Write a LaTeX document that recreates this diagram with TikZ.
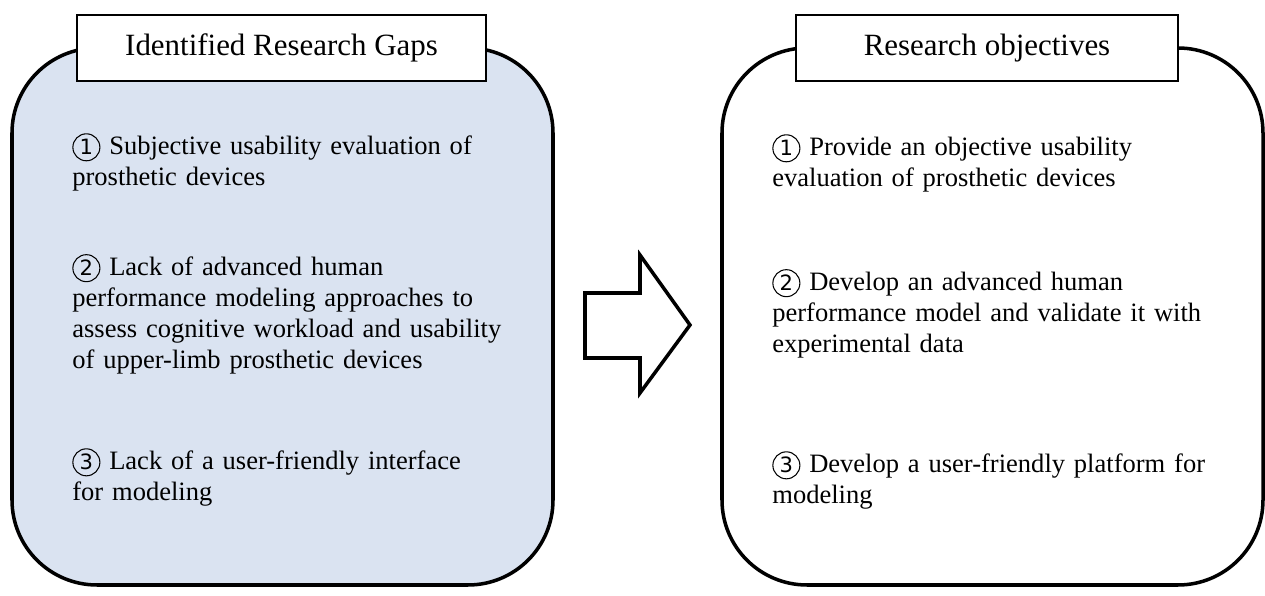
\documentclass[tikz,border=0pt]{standalone}
\usepackage{fontspec}
\setmainfont{Liberation Serif}
\newfontfamily\circfont{DejaVu Sans}
\usepackage{tikz}
\usetikzlibrary{positioning}
\usepackage{xcolor}
\definecolor{gapblue}{HTML}{DAE3F1}
\newcommand{\cnum}[1]{\tikz[baseline=(cn.base)]
  \node[circle, draw, line width=0.6pt, inner sep=0pt, minimum size=0.54cm,
        font=\circfont\fontsize{12pt}{12pt}\selectfont] (cn) {#1};}

\begin{document}
\begin{tikzpicture}[
    outerbox/.style={draw, line width=2pt, rounded corners=1.7cm,
                     minimum width=10.82cm, minimum height=10.74cm},
    titlebox/.style={draw, fill=white, line width=1pt, minimum height=1.32cm,
                     font=\fontsize{17.6pt}{20pt}\selectfont},
    itemtext/.style={anchor=base west, inner sep=0pt, text width=9.6cm, align=left,
                     font=\fontsize{15.1pt}{17.64pt}\selectfont}
  ]
  \useasboundingbox (0,0) rectangle (25.3,11.92);

  % left: gaps
  \node[outerbox, fill=gapblue] (gapbox) at (5.65, 5.59) {};
  \node[titlebox, minimum width=8.18cm] (gaptitle) at (5.63, 10.96) {Identified Research Gaps};
  \node[itemtext] (gapone) at (1.44, 8.82)
    {\cnum{1} Subjective usability evaluation of\\prosthetic devices};
  \node[itemtext] (gaptwo) at (1.44, 6.40)
    {\cnum{2} Lack of advanced human\\performance modeling approaches to\\assess cognitive workload and usability\\of upper-limb prosthetic devices};
  \node[itemtext] (gapthree) at (1.44, 2.52)
    {\cnum{3} Lack of a user-friendly interface\\for modeling};

  % right: objectives
  \node[outerbox, fill=white] (objbox) at (19.85, 5.59) {};
  \node[titlebox, minimum width=7.64cm] (objtitle) at (19.74, 10.96) {Research objectives};
  \node[itemtext] (objone) at (15.44, 8.80)
    {\cnum{1} Provide an objective usability\\evaluation of prosthetic devices};
  \node[itemtext] (objtwo) at (15.44, 6.10)
    {\cnum{2} Develop an advanced human\\performance model and validate it with\\experimental data};
  \node[itemtext] (objthree) at (15.44, 2.46)
    {\cnum{3} Develop a user-friendly platform for\\modeling};

  % block arrow
  \draw[line width=2pt, fill=white]
    (11.7, 6.06) -- (12.8, 6.06) -- (12.8, 6.82) -- (13.8, 5.42)
    -- (12.8, 4.06) -- (12.8, 4.76) -- (11.7, 4.76) -- cycle;
\end{tikzpicture}
\end{document}
